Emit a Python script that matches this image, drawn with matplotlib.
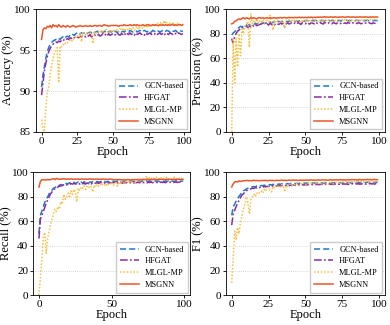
import matplotlib
matplotlib.use("Agg")
import matplotlib.pyplot as plt
import numpy as np

plt.rcParams["font.family"] = ["Liberation Serif", "DejaVu Serif"]

epochs = np.arange(100)
models = ["GCN-based", "HFGAT", "MLGL-MP", "MSGNN"]

acc_gcn = [
    90.5, 92.0, 93.0, 94.0, 94.8, 95.3, 95.7, 95.9, 96.1, 96.2,
    96.3, 96.2, 96.4, 96.3, 96.5, 96.6, 96.4, 96.6, 96.7, 96.6,
    96.8, 96.7, 96.9, 96.8, 97.0, 97.1, 96.9, 97.0, 97.1, 97.0,
    97.1, 97.2, 97.0, 97.1, 97.2, 97.1, 97.3, 97.1, 97.2, 97.3,
    97.1, 97.2, 97.3, 97.1, 97.3, 97.2, 97.4, 97.2, 97.3, 97.2,
    97.4, 97.2, 97.3, 97.1, 97.3, 97.4, 97.2, 97.3, 97.2, 97.4,
    97.3, 97.2, 97.4, 97.3, 97.2, 97.3, 97.4, 97.2, 97.3, 97.4,
    97.2, 97.3, 97.4, 97.3, 97.2, 97.4, 97.3, 97.2, 97.4, 97.3,
    97.2, 97.4, 97.3, 97.2, 97.3, 97.4, 97.2, 97.3, 97.4, 97.3,
    97.2, 97.4, 97.3, 97.3, 97.4, 97.2, 97.3, 97.4, 97.3, 97.3]
acc_hfgat = [
    89.5, 91.0, 92.5, 93.4, 94.2, 94.8, 95.2, 95.5, 95.7, 95.9,
    96.0, 95.9, 96.1, 96.0, 96.2, 96.1, 96.3, 96.2, 96.4, 96.3,
    96.5, 96.4, 96.6, 96.5, 96.7, 96.6, 96.5, 96.7, 96.6, 96.8,
    96.7, 96.6, 96.8, 96.7, 96.9, 96.6, 96.8, 96.9, 96.7, 96.8,
    96.9, 96.7, 96.8, 97.0, 96.8, 96.9, 96.7, 97.0, 96.8, 96.9,
    97.0, 96.8, 96.9, 97.1, 96.9, 96.8, 97.0, 96.9, 97.1, 96.8,
    97.0, 96.9, 97.1, 96.9, 97.0, 96.8, 97.1, 96.9, 97.0, 97.1,
    96.9, 97.0, 96.8, 97.1, 96.9, 97.0, 97.1, 96.9, 97.0, 96.9,
    97.1, 96.9, 97.0, 97.1, 96.9, 97.0, 96.8, 97.1, 97.0, 96.9,
    97.1, 97.0, 96.9, 97.1, 97.0, 96.9, 97.1, 97.0, 96.9, 97.0]
acc_mlgl = [
    86.5, 85.5, 85.0, 88.0, 89.8, 90.5, 92.0, 93.0, 94.0, 94.6,
    95.0, 95.3, 91.0, 95.5, 95.4, 95.7, 95.6, 96.0, 95.9, 96.1,
    96.2, 96.0, 96.4, 96.3, 96.6, 96.8, 96.5, 97.0, 96.0, 97.1,
    97.0, 96.8, 97.2, 97.0, 97.3, 97.1, 95.8, 97.2, 97.0, 97.3,
    97.3, 97.1, 97.4, 97.2, 97.0, 97.5, 97.3, 97.1, 97.5, 97.3,
    97.5, 97.2, 97.6, 97.4, 97.2, 97.6, 97.4, 97.7, 97.3, 97.6,
    97.6, 97.4, 97.7, 97.5, 97.8, 97.4, 97.7, 97.9, 97.5, 97.8,
    97.8, 97.6, 97.9, 98.0, 97.7, 98.1, 97.8, 98.0, 98.2, 97.9,
    98.1, 98.3, 97.9, 98.2, 98.4, 98.1, 98.6, 98.2, 98.4, 98.0,
    98.3, 98.1, 98.4, 98.0, 98.2, 98.3, 98.0, 98.2, 98.1, 98.0]
acc_msgnn = [
    96.3, 97.5, 97.7, 97.6, 97.9, 97.8, 98.0, 97.7, 98.1, 97.9,
    98.0, 97.8, 98.1, 97.9, 97.8, 98.0, 97.9, 97.8, 98.0, 97.9,
    97.8, 97.9, 98.0, 97.9, 97.8, 97.9, 97.9, 98.0, 97.9, 97.9,
    97.9, 98.0, 97.9, 97.9, 98.0, 97.9, 97.9, 98.0, 98.0, 97.9,
    98.0, 98.0, 97.9, 98.0, 98.1, 98.0, 98.0, 97.9, 98.0, 98.0,
    98.0, 98.0, 98.0, 98.0, 97.9, 98.0, 98.0, 98.0, 98.1, 98.0,
    98.0, 98.0, 98.1, 98.0, 98.0, 98.1, 98.0, 98.1, 98.0, 98.0,
    98.0, 98.1, 98.0, 98.0, 98.1, 98.1, 98.0, 98.0, 98.1, 98.0,
    98.1, 98.0, 98.0, 98.1, 98.0, 98.1, 98.0, 98.1, 98.0, 98.1,
    98.0, 98.1, 98.1, 98.0, 98.1, 98.0, 98.1, 98.1, 98.0, 98.1]

prec_gcn = [
    79.0, 80.5, 81.5, 83.0, 84.0, 85.0, 86.0, 85.5, 86.5, 87.0,
    87.0, 86.5, 87.5, 87.0, 88.0, 87.5, 88.5, 87.8, 88.5, 88.0,
    89.0, 88.3, 89.0, 88.5, 89.2, 88.8, 89.5, 88.7, 89.3, 89.8,
    89.0, 89.6, 90.0, 89.3, 89.8, 90.2, 89.5, 90.0, 89.6, 90.3,
    89.8, 90.4, 89.9, 90.2, 90.6, 90.0, 90.5, 90.1, 90.7, 90.2,
    90.5, 90.8, 90.3, 90.6, 90.2, 90.8, 90.4, 90.9, 90.5, 90.7,
    90.3, 90.9, 90.6, 90.4, 91.0, 90.5, 90.8, 90.3, 90.9, 90.6,
    90.4, 91.0, 90.6, 90.8, 90.3, 90.9, 90.5, 90.7, 91.0, 90.4,
    90.8, 90.6, 90.9, 90.4, 90.7, 91.0, 90.5, 90.8, 90.6, 90.9,
    90.4, 90.7, 90.9, 90.5, 90.8, 90.6, 90.4, 90.9, 90.6, 90.5]
prec_hfgat = [
    76.0, 72.0, 78.0, 80.0, 82.0, 83.0, 84.0, 85.0, 84.5, 85.5,
    86.0, 85.0, 86.5, 85.5, 87.0, 86.0, 87.5, 86.5, 87.0, 87.5,
    88.0, 87.0, 88.5, 87.5, 88.0, 87.0, 88.5, 87.5, 88.0, 87.0,
    88.5, 88.0, 87.5, 88.8, 87.8, 88.5, 85.5, 88.0, 88.8, 87.8,
    88.5, 89.0, 88.0, 88.8, 87.8, 89.0, 88.3, 87.5, 89.0, 88.5,
    88.0, 89.2, 88.3, 87.8, 89.0, 88.5, 88.0, 89.3, 88.5, 88.0,
    89.0, 88.4, 87.8, 89.2, 88.5, 88.0, 89.0, 88.6, 88.0, 89.1,
    88.5, 88.0, 89.2, 88.6, 88.2, 89.0, 88.4, 88.8, 88.2, 89.1,
    88.5, 88.0, 88.9, 88.4, 88.8, 88.2, 89.0, 88.5, 88.0, 88.9,
    88.4, 88.7, 88.2, 88.9, 88.5, 88.1, 88.8, 88.4, 88.7, 88.5]
prec_mlgl = [
    0.0, 75.0, 40.0, 76.0, 53.0, 80.0, 62.0, 84.0, 80.0, 87.0,
    88.0, 90.0, 69.0, 96.0, 88.0, 91.0, 89.0, 92.0, 88.0, 90.5,
    89.0, 91.5, 88.5, 90.0, 91.0, 89.5, 95.0, 90.0, 83.0, 91.0,
    89.5, 91.5, 90.0, 88.5, 91.0, 89.5, 85.0, 91.0, 90.0, 91.5,
    89.0, 91.0, 90.0, 91.8, 89.5, 91.0, 90.5, 88.5, 91.5, 90.0,
    91.2, 89.5, 91.5, 90.5, 89.0, 91.8, 90.2, 91.0, 89.8, 91.5,
    90.5, 89.5, 91.8, 90.3, 91.2, 89.8, 91.5, 90.5, 89.8, 91.7,
    90.4, 91.2, 89.7, 91.5, 90.6, 91.0, 89.9, 91.6, 90.5, 91.2,
    90.0, 91.5, 90.6, 89.8, 91.4, 90.7, 91.8, 90.3, 91.2, 90.6,
    91.5, 90.4, 91.1, 90.8, 91.6, 90.5, 91.2, 90.8, 91.4, 91.0]
prec_msgnn = [
    88.0, 88.5, 90.0, 90.5, 91.5, 92.0, 91.5, 92.5, 93.0, 92.0,
    93.0, 92.5, 92.0, 93.0, 92.5, 93.0, 92.5, 92.0, 92.8, 93.0,
    92.5, 93.0, 92.3, 92.8, 93.0, 92.5, 93.0, 92.6, 92.8, 93.0,
    92.5, 93.0, 92.8, 93.2, 92.7, 93.0, 93.2, 92.8, 93.0, 93.3,
    93.0, 93.2, 92.9, 93.3, 93.0, 93.2, 93.4, 93.0, 93.3, 93.1,
    93.3, 93.0, 93.4, 93.2, 93.5, 93.1, 93.4, 93.2, 93.5, 93.3,
    93.6, 93.3, 93.5, 93.8, 93.4, 93.6, 93.3, 93.7, 93.5, 93.4,
    93.7, 93.5, 93.3, 93.6, 93.4, 93.7, 93.5, 93.3, 93.6, 93.8,
    93.5, 93.4, 93.7, 93.5, 93.3, 93.6, 93.4, 93.7, 93.5, 93.6,
    93.4, 93.7, 93.5, 93.3, 93.6, 93.5, 93.7, 93.4, 93.6, 93.5]

rec_gcn = [
    50.0, 65.0, 68.5, 72.0, 75.5, 78.0, 80.0, 82.5, 84.5, 85.5,
    87.0, 87.5, 88.5, 88.0, 89.5, 90.0, 89.0, 90.5, 90.0, 91.0,
    90.5, 91.5, 90.8, 91.2, 91.8, 90.8, 91.5, 92.0, 91.0, 92.0,
    91.2, 92.3, 91.5, 92.0, 91.0, 92.2, 91.6, 92.5, 91.8, 92.2,
    92.5, 91.8, 92.3, 92.7, 92.0, 92.5, 91.8, 92.6, 92.2, 92.8,
    92.3, 92.7, 92.0, 92.5, 92.9, 92.3, 92.7, 92.1, 92.8, 92.4,
    92.9, 92.3, 92.7, 93.0, 92.4, 92.8, 92.2, 92.9, 92.5, 93.0,
    92.4, 92.8, 93.1, 92.5, 92.9, 92.3, 93.0, 92.6, 92.9, 92.4,
    93.0, 92.6, 92.9, 92.3, 93.1, 92.7, 92.5, 93.0, 92.6, 92.9,
    92.4, 93.0, 92.7, 92.5, 93.1, 92.8, 92.6, 93.0, 92.7, 92.9]
rec_hfgat = [
    46.0, 62.0, 65.0, 68.0, 71.5, 75.0, 77.5, 80.0, 82.5, 84.0,
    86.0, 86.5, 87.5, 88.0, 88.5, 89.0, 89.3, 89.8, 90.2, 89.6,
    90.5, 90.0, 90.8, 90.3, 91.0, 90.5, 90.2, 90.9, 90.4, 91.2,
    90.6, 91.0, 90.3, 91.3, 90.7, 91.1, 90.5, 91.4, 90.8, 91.2,
    91.5, 90.9, 91.3, 91.6, 91.0, 91.4, 90.8, 91.6, 91.2, 91.5,
    91.0, 91.7, 91.3, 90.9, 91.6, 91.2, 91.8, 91.3, 91.0, 91.7,
    91.4, 91.9, 91.2, 91.6, 91.9, 91.3, 91.7, 91.5, 91.9, 91.4,
    91.8, 92.0, 91.5, 91.8, 91.3, 91.9, 91.6, 92.0, 91.5, 91.8,
    92.0, 91.6, 91.9, 91.4, 92.1, 91.7, 91.9, 91.5, 92.0, 91.7,
    91.9, 92.1, 91.6, 91.9, 92.0, 91.7, 91.9, 92.1, 91.8, 91.9]
rec_mlgl = [
    0.0, 15.0, 30.0, 48.0, 51.0, 34.0, 46.0, 52.0, 58.0, 62.0,
    66.0, 70.0, 68.0, 72.0, 70.0, 76.0, 74.0, 82.0, 78.0, 80.0,
    83.0, 79.0, 85.0, 82.0, 86.0, 84.0, 76.0, 87.0, 85.0, 88.0,
    87.0, 89.0, 86.0, 88.5, 87.0, 89.0, 88.0, 84.0, 89.5, 88.0,
    90.0, 88.5, 90.5, 89.0, 91.0, 90.0, 88.5, 91.0, 89.5, 90.5,
    92.0, 89.0, 90.5, 91.5, 88.5, 92.0, 90.5, 92.5, 91.0, 93.0,
    91.5, 92.0, 93.5, 91.0, 92.5, 94.0, 91.5, 93.0, 94.5, 92.0,
    93.5, 95.0, 93.0, 95.5, 97.0, 94.0, 95.5, 94.5, 96.0, 95.0,
    94.5, 96.0, 95.0, 94.0, 95.5, 96.0, 94.5, 95.0, 96.0, 94.5,
    95.5, 94.5, 95.0, 96.0, 94.5, 95.0, 95.5, 94.0, 95.0, 94.5]
rec_msgnn = [
    88.0, 92.5, 94.0, 93.8, 94.0, 93.6, 94.2, 93.8, 94.0, 94.5,
    94.8, 94.0, 95.0, 94.5, 94.2, 94.6, 94.3, 94.8, 94.5, 94.2,
    94.6, 94.3, 94.7, 94.4, 94.2, 94.5, 94.3, 94.6, 94.2, 94.4,
    94.6, 94.3, 94.5, 94.2, 94.4, 94.6, 94.3, 94.5, 94.2, 94.4,
    94.5, 94.2, 94.4, 94.3, 94.5, 94.2, 94.4, 94.1, 94.3, 94.5,
    94.2, 94.0, 93.8, 94.1, 93.9, 94.2, 93.8, 94.0, 93.7, 94.0,
    93.8, 94.1, 93.9, 93.7, 94.0, 93.8, 94.1, 93.9, 94.2, 94.0,
    94.1, 93.9, 94.2, 94.0, 94.3, 94.1, 93.9, 94.2, 94.0, 94.3,
    94.1, 94.0, 94.2, 94.4, 94.1, 94.3, 94.0, 94.2, 94.4, 94.1,
    94.3, 94.0, 94.2, 94.4, 94.1, 94.3, 94.2, 94.0, 94.3, 94.2]

f1_gcn = [
    65.0, 72.0, 74.0, 76.5, 78.5, 80.5, 82.0, 84.0, 85.0, 85.5,
    86.5, 87.0, 87.0, 87.5, 88.0, 88.3, 88.0, 88.8, 89.0, 88.6,
    89.2, 89.0, 89.5, 89.2, 89.8, 89.4, 90.0, 89.6, 90.2, 89.8,
    90.3, 90.0, 90.5, 90.1, 90.6, 90.2, 90.7, 90.4, 90.8, 90.3,
    90.9, 90.5, 91.0, 90.6, 91.1, 90.7, 91.0, 90.8, 91.2, 90.9,
    91.3, 90.9, 91.2, 91.0, 91.4, 91.1, 91.3, 90.9, 91.4, 91.1,
    91.5, 91.2, 91.4, 91.0, 91.5, 91.2, 91.6, 91.3, 91.5, 91.1,
    91.6, 91.3, 91.7, 91.4, 91.6, 91.2, 91.7, 91.4, 91.8, 91.5,
    91.7, 91.3, 91.8, 91.5, 91.9, 91.6, 91.8, 91.4, 91.9, 91.6,
    91.8, 91.5, 92.0, 91.7, 91.9, 91.6, 92.0, 91.8, 91.9, 91.8]
f1_hfgat = [
    57.0, 66.0, 69.0, 72.0, 75.0, 77.0, 79.5, 81.5, 82.5, 84.0,
    85.0, 85.5, 86.0, 86.5, 87.0, 86.8, 87.5, 87.2, 88.0, 87.5,
    88.2, 87.8, 88.5, 88.0, 88.6, 88.2, 88.8, 88.4, 89.0, 88.5,
    89.1, 88.7, 89.2, 88.8, 89.3, 89.0, 89.4, 89.0, 89.5, 89.1,
    89.6, 89.2, 89.7, 89.3, 89.8, 89.4, 89.9, 89.5, 89.8, 89.6,
    90.0, 89.6, 90.1, 89.7, 90.2, 89.8, 90.1, 89.9, 90.3, 89.8,
    90.2, 90.0, 90.4, 89.9, 90.3, 90.0, 90.5, 90.1, 90.4, 90.0,
    90.5, 90.2, 90.6, 90.1, 90.5, 90.2, 90.6, 90.3, 90.5, 90.1,
    90.6, 90.3, 90.7, 90.2, 90.6, 90.4, 90.7, 90.2, 90.6, 90.4,
    90.7, 90.3, 90.6, 90.4, 90.8, 90.5, 90.6, 90.4, 90.7, 90.5]
f1_mlgl = [
    10.0, 30.0, 52.0, 45.0, 55.0, 50.0, 60.0, 65.0, 70.0, 75.0,
    80.0, 75.0, 66.0, 78.0, 80.0, 82.0, 80.0, 83.0, 82.0, 84.0,
    85.0, 83.0, 86.0, 84.5, 87.0, 88.0, 85.0, 84.0, 88.5, 87.0,
    89.0, 88.0, 89.5, 88.0, 90.0, 89.0, 84.0, 89.5, 88.5, 90.0,
    90.5, 89.0, 90.5, 89.5, 91.0, 90.0, 89.0, 91.0, 90.0, 91.5,
    90.5, 89.5, 91.0, 90.5, 91.5, 90.0, 91.0, 91.5, 90.0, 91.0,
    91.5, 90.5, 91.0, 92.0, 90.5, 91.5, 90.0, 91.5, 92.0, 90.5,
    91.5, 92.0, 91.0, 91.5, 92.5, 91.0, 92.0, 91.5, 92.5, 91.0,
    92.0, 92.5, 91.5, 92.0, 93.0, 92.0, 94.0, 92.0, 92.5, 91.5,
    92.5, 92.0, 93.0, 92.0, 92.5, 92.0, 92.5, 92.0, 93.0, 92.0]
f1_msgnn = [
    88.0, 90.5, 92.0, 92.5, 92.0, 93.0, 92.5, 92.8, 93.2, 93.0,
    93.5, 93.0, 93.3, 93.0, 93.2, 93.5, 93.1, 93.4, 93.0, 93.3,
    93.1, 93.4, 93.2, 93.5, 93.0, 93.3, 93.5, 93.2, 93.4, 93.1,
    93.3, 93.5, 93.2, 93.4, 93.6, 93.3, 93.5, 93.2, 93.4, 93.6,
    93.3, 93.5, 93.7, 93.4, 93.6, 93.3, 93.5, 93.7, 93.4, 93.6,
    93.5, 93.7, 93.4, 93.6, 93.8, 93.5, 93.7, 93.4, 93.6, 93.8,
    93.5, 93.7, 93.9, 93.6, 93.8, 93.5, 93.7, 93.9, 93.6, 93.8,
    93.7, 93.9, 93.6, 93.8, 94.0, 93.7, 93.9, 93.6, 93.8, 94.0,
    93.7, 93.9, 94.1, 93.8, 94.0, 93.7, 93.9, 94.1, 93.8, 94.0,
    93.8, 94.0, 94.2, 93.9, 94.1, 93.8, 94.0, 94.2, 93.9, 94.0]

# style per model: (color, linestyle)
STYLES = [("#1f78c8", (0, (4, 2))), ("#8a2ca6", (0, (5, 1.5, 1.2, 1.5))),
          ("#f7c044", (0, (1, 1.2))), ("#e8582a", "-")]

# (data, ylabel, ylim, yticks, xticks, axes rect in fig fraction)
PANELS = [
    ([acc_gcn, acc_hfgat, acc_mlgl, acc_msgnn], "Accuracy (%)", (85, 100),
     [85, 90, 95, 100], [0, 25, 50, 75, 100], [0.092, 0.594, 0.395, 0.378]),
    ([prec_gcn, prec_hfgat, prec_mlgl, prec_msgnn], "Precision (%)", (0, 100),
     [0, 20, 40, 60, 80, 100], [0, 25, 50, 75, 100], [0.579, 0.594, 0.408, 0.378]),
    ([rec_gcn, rec_hfgat, rec_mlgl, rec_msgnn], "Recall (%)", (0, 100),
     [0, 20, 40, 60, 80, 100], [0, 50, 100], [0.085, 0.092, 0.403, 0.378]),
    ([f1_gcn, f1_hfgat, f1_mlgl, f1_msgnn], "F1 (%)", (0, 100),
     [0, 20, 40, 60, 80, 100], [0, 25, 50, 75, 100], [0.579, 0.092, 0.408, 0.378]),
]

fig = plt.figure(figsize=(3.9, 3.25), dpi=100)
for series, ylab, ylim, yt, xt, rect in PANELS:
    ax = fig.add_axes(rect)
    for name, vals, (col, ls) in zip(models, series, STYLES):
        ax.plot(epochs, vals, color=col, linestyle=ls, linewidth=1.1, label=name)
    ax.set_ylim(*ylim)
    ax.set_xlim(-4, 104)
    ax.set_yticks(yt)
    ax.set_xticks(xt)
    ax.yaxis.grid(True, linestyle=(0, (1, 1.5)), color="#c8c8c8", linewidth=0.6)
    ax.set_axisbelow(True)
    ax.tick_params(labelsize=8, length=2.5, width=0.6, pad=1)
    for sp in ax.spines.values():
        sp.set_linewidth(0.6)
    ax.set_xlabel("Epoch", fontsize=9, labelpad=0)
    ax.set_ylabel(ylab, fontsize=9, labelpad=0)
    ax.legend(loc="lower right", fontsize=6, frameon=True, fancybox=False,
              edgecolor="#cccccc", framealpha=1, handlelength=2.3,
              borderpad=0.45, labelspacing=0.45, borderaxespad=0.3,
              handletextpad=0.7)

fig.savefig("out.png", dpi=100)
